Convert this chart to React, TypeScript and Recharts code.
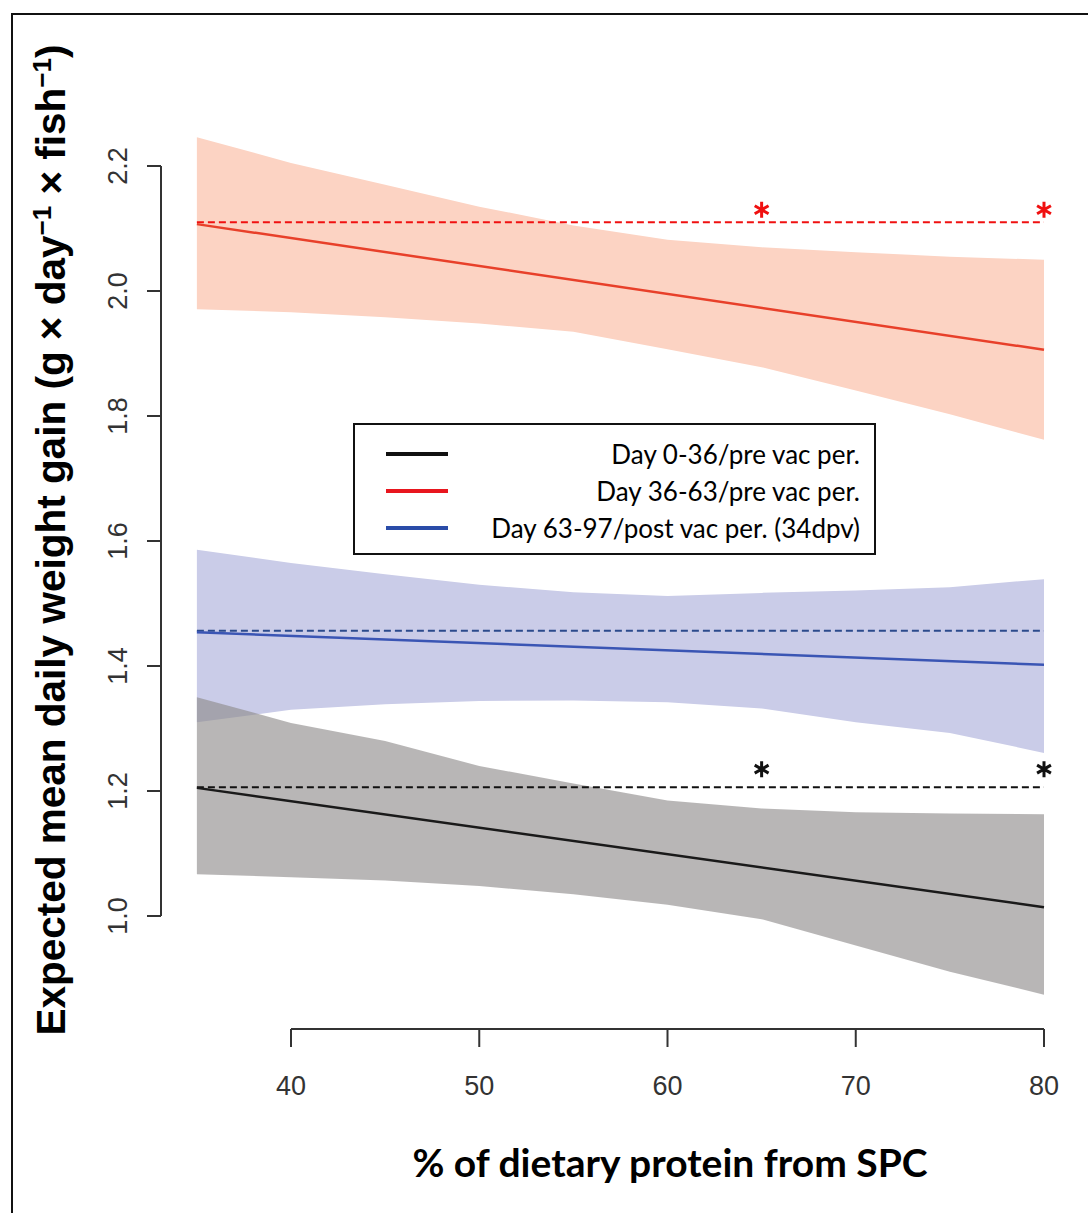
import React from 'react';
import {
  ComposedChart,
  Area,
  Line,
  Scatter,
  XAxis,
  YAxis,
  ReferenceLine,
  Legend,
  Label,
} from 'recharts';

// x positions (% of dietary protein from SPC) where the bands were read
const xValues = [35, 40, 45, 50, 55, 60, 65, 70, 75, 80];

// confidence bands
const redLower = [1.971, 1.966, 1.958, 1.948, 1.935, 1.907, 1.878, 1.841, 1.803, 1.762];
const redUpper = [2.246, 2.205, 2.17, 2.135, 2.105, 2.082, 2.07, 2.062, 2.055, 2.05];
const blueLower = [1.31, 1.33, 1.339, 1.344, 1.345, 1.342, 1.332, 1.31, 1.293, 1.261];
const blueUpper = [1.586, 1.565, 1.547, 1.53, 1.518, 1.512, 1.517, 1.521, 1.526, 1.539];
const blackLower = [1.067, 1.062, 1.057, 1.048, 1.035, 1.018, 0.995, 0.953, 0.911, 0.874];
const blackUpper = [1.35, 1.309, 1.28, 1.24, 1.212, 1.185, 1.172, 1.166, 1.164, 1.163];

// fitted lines (end points)
const fitX = [35, 80];
const redFit = [2.107, 1.906];
const blueFit = [1.454, 1.402];
const blackFit = [1.205, 1.014];

// dashed reference levels
const redRef = 2.11;
const blueRef = 1.4565;
const blackRef = 1.206;

// significance markers
const starX = [65, 80];
const redStarY = 2.13;
const blackStarY = 1.235;

const xTicks = [40, 50, 60, 70, 80];
const yTicks = [1.0, 1.2, 1.4, 1.6, 1.8, 2.0, 2.2];

const legendItems = [
  { label: 'Day 0-36/pre vac per.', color: '#111111' },
  { label: 'Day 36-63/pre vac per.', color: '#e8161e' },
  { label: 'Day 63-97/post vac per. (34dpv)', color: '#2a4ca8' },
];

const X_MIN = 33.094;
const X_MAX = 80;
const Y_MIN = 0.8192;
const Y_MAX = 2.2576;

const bandData = xValues.map((x, i) => ({
  x,
  red: [redLower[i], redUpper[i]],
  blue: [blueLower[i], blueUpper[i]],
  black: [blackLower[i], blackUpper[i]],
}));

const fitRows = (vals: number[]) => fitX.map((x, i) => ({ x, y: vals[i] }));
const starRows = (y: number) => starX.map((x) => ({ x, y }));

const axisFont = "'Liberation Sans', Arial, sans-serif";

const Star = (color: string) => (props: any) => {
  const { cx, cy } = props;
  const r = 8;
  const dx = r * Math.cos(Math.PI / 6);
  const dy = r * Math.sin(Math.PI / 6);
  return (
    <path
      d={`M${cx},${cy - r}L${cx},${cy + r}M${cx - dx},${cy - dy}L${cx + dx},${cy + dy}M${cx - dx},${cy + dy}L${cx + dx},${cy - dy}`}
      stroke={color}
      strokeWidth={3}
    />
  );
};

const YTick = (props: any) => {
  const { x, y, payload } = props;
  return (
    <text
      transform={`translate(${x},${y}) rotate(-90)`}
      textAnchor="middle"
      fontFamily={axisFont}
      fontSize={27}
      fill="#333"
    >
      {Number(payload.value).toFixed(1)}
    </text>
  );
};

const renderLegend = () => (
  <div
    style={{
      width: 519,
      height: 128,
      border: '2px solid #111',
      background: '#fff',
      boxSizing: 'content-box',
      position: 'relative',
      fontFamily: 'Lato, sans-serif',
      fontSize: 26,
      color: '#000',
    }}
  >
    {legendItems.map((item, i) => (
      <div
        key={item.label}
        style={{
          position: 'absolute',
          left: 0,
          top: 12 + i * 37,
          width: 505,
          height: 34,
          display: 'flex',
          alignItems: 'center',
        }}
      >
        <div style={{ marginLeft: 31, width: 62, height: 4, background: item.color }} />
        <div style={{ flex: 1, textAlign: 'right', whiteSpace: 'nowrap' }}>{item.label}</div>
      </div>
    ))}
  </div>
);

export default function App() {
  return (
    <div
      style={{
        position: 'absolute',
        left: 0,
        top: 0,
        width: 1088,
        height: 1213,
        overflow: 'hidden',
        background: '#fff',
      }}
    >
      <div
        style={{
          position: 'absolute',
          left: 11,
          top: 13,
          width: 1200,
          height: 1300,
          borderLeft: '2px solid #111',
          borderTop: '2px solid #111',
        }}
      />
      <div style={{ position: 'absolute', left: 0, top: 0 }}>
        <ComposedChart
          width={1088}
          height={1213}
          data={bandData}
          margin={{ top: 130, right: 44, bottom: 124, left: 101 }}
        >
          <XAxis
            dataKey="x"
            type="number"
            domain={[X_MIN, X_MAX]}
            ticks={xTicks}
            axisLine={false}
            tickSize={18}
            tickMargin={29}
            tickLine={{ stroke: '#333', strokeWidth: 2 }}
            tick={{ fill: '#333', fontSize: 27, fontFamily: axisFont }}
            height={60}
          >
            <Label
              content={() => (
                <text
                  x={670}
                  y={1177}
                  textAnchor="middle"
                  fontFamily="Lato, sans-serif"
                  fontWeight={700}
                  fontSize={39}
                  fill="#000"
                >
                  % of dietary protein from SPC
                </text>
              )}
            />
          </XAxis>
          <YAxis
            type="number"
            domain={[Y_MIN, Y_MAX]}
            ticks={yTicks}
            axisLine={false}
            tickSize={14}
            tickMargin={20}
            tickLine={{ stroke: '#333', strokeWidth: 2 }}
            tick={<YTick />}
            width={60}
          >
            <Label
              content={() => (
                <text
                  transform="translate(65,540) rotate(-90)"
                  textAnchor="middle"
                  fontFamily={axisFont}
                  fontWeight={700}
                  fontSize={40.5}
                  fill="#000"
                >
                  Expected mean daily weight gain (g × day
                  <tspan dy={-14} fontSize={26}>−1</tspan>
                  <tspan dy={14}> × fish</tspan>
                  <tspan dy={-14} fontSize={26}>−1</tspan>
                  <tspan dy={14}>)</tspan>
                </text>
              )}
            />
          </YAxis>

          <Area dataKey="red" type="linear" stroke="none" fill="#fcd3c3" fillOpacity={1} isAnimationActive={false} />
          <Area dataKey="blue" type="linear" stroke="none" fill="#cacce8" fillOpacity={1} isAnimationActive={false} />
          <Area dataKey="black" type="linear" stroke="none" fill="#8c8989" fillOpacity={0.62} isAnimationActive={false} />

          <ReferenceLine
            segment={[{ x: fitX[0], y: redRef }, { x: fitX[1], y: redRef }]}
            stroke="#f01010"
            strokeWidth={2}
            strokeDasharray="7 4"
            ifOverflow="visible"
          />
          <ReferenceLine
            segment={[{ x: fitX[0], y: blueRef }, { x: fitX[1], y: blueRef }]}
            stroke="#2b4a8c"
            strokeWidth={2}
            strokeDasharray="7 4"
            ifOverflow="visible"
          />
          <ReferenceLine
            segment={[{ x: fitX[0], y: blackRef }, { x: fitX[1], y: blackRef }]}
            stroke="#111"
            strokeWidth={2}
            strokeDasharray="7 4"
            ifOverflow="visible"
          />

          <Line data={fitRows(redFit)} dataKey="y" type="linear" stroke="#e8402a" strokeWidth={2.5} dot={false} isAnimationActive={false} legendType="none" />
          <Line data={fitRows(blueFit)} dataKey="y" type="linear" stroke="#3a55b4" strokeWidth={2.5} dot={false} isAnimationActive={false} legendType="none" />
          <Line data={fitRows(blackFit)} dataKey="y" type="linear" stroke="#1a1a1a" strokeWidth={2.5} dot={false} isAnimationActive={false} legendType="none" />

          <Scatter data={starRows(redStarY)} dataKey="y" shape={Star('#f01010')} isAnimationActive={false} />
          <Scatter data={starRows(blackStarY)} dataKey="y" shape={Star('#111')} isAnimationActive={false} />

          <ReferenceLine
            segment={[{ x: X_MIN, y: yTicks[0] }, { x: X_MIN, y: yTicks[yTicks.length - 1] }]}
            stroke="#333"
            strokeWidth={2}
            ifOverflow="visible"
          />
          <ReferenceLine
            segment={[{ x: xTicks[0], y: Y_MIN }, { x: xTicks[xTicks.length - 1], y: Y_MIN }]}
            stroke="#333"
            strokeWidth={2}
            ifOverflow="visible"
          />

          <Legend
            layout="vertical"
            align="center"
            verticalAlign="middle"
            content={renderLegend}
            wrapperStyle={{ left: 353, top: 423, width: 523, height: 132 }}
          />
        </ComposedChart>
      </div>
    </div>
  );
}
